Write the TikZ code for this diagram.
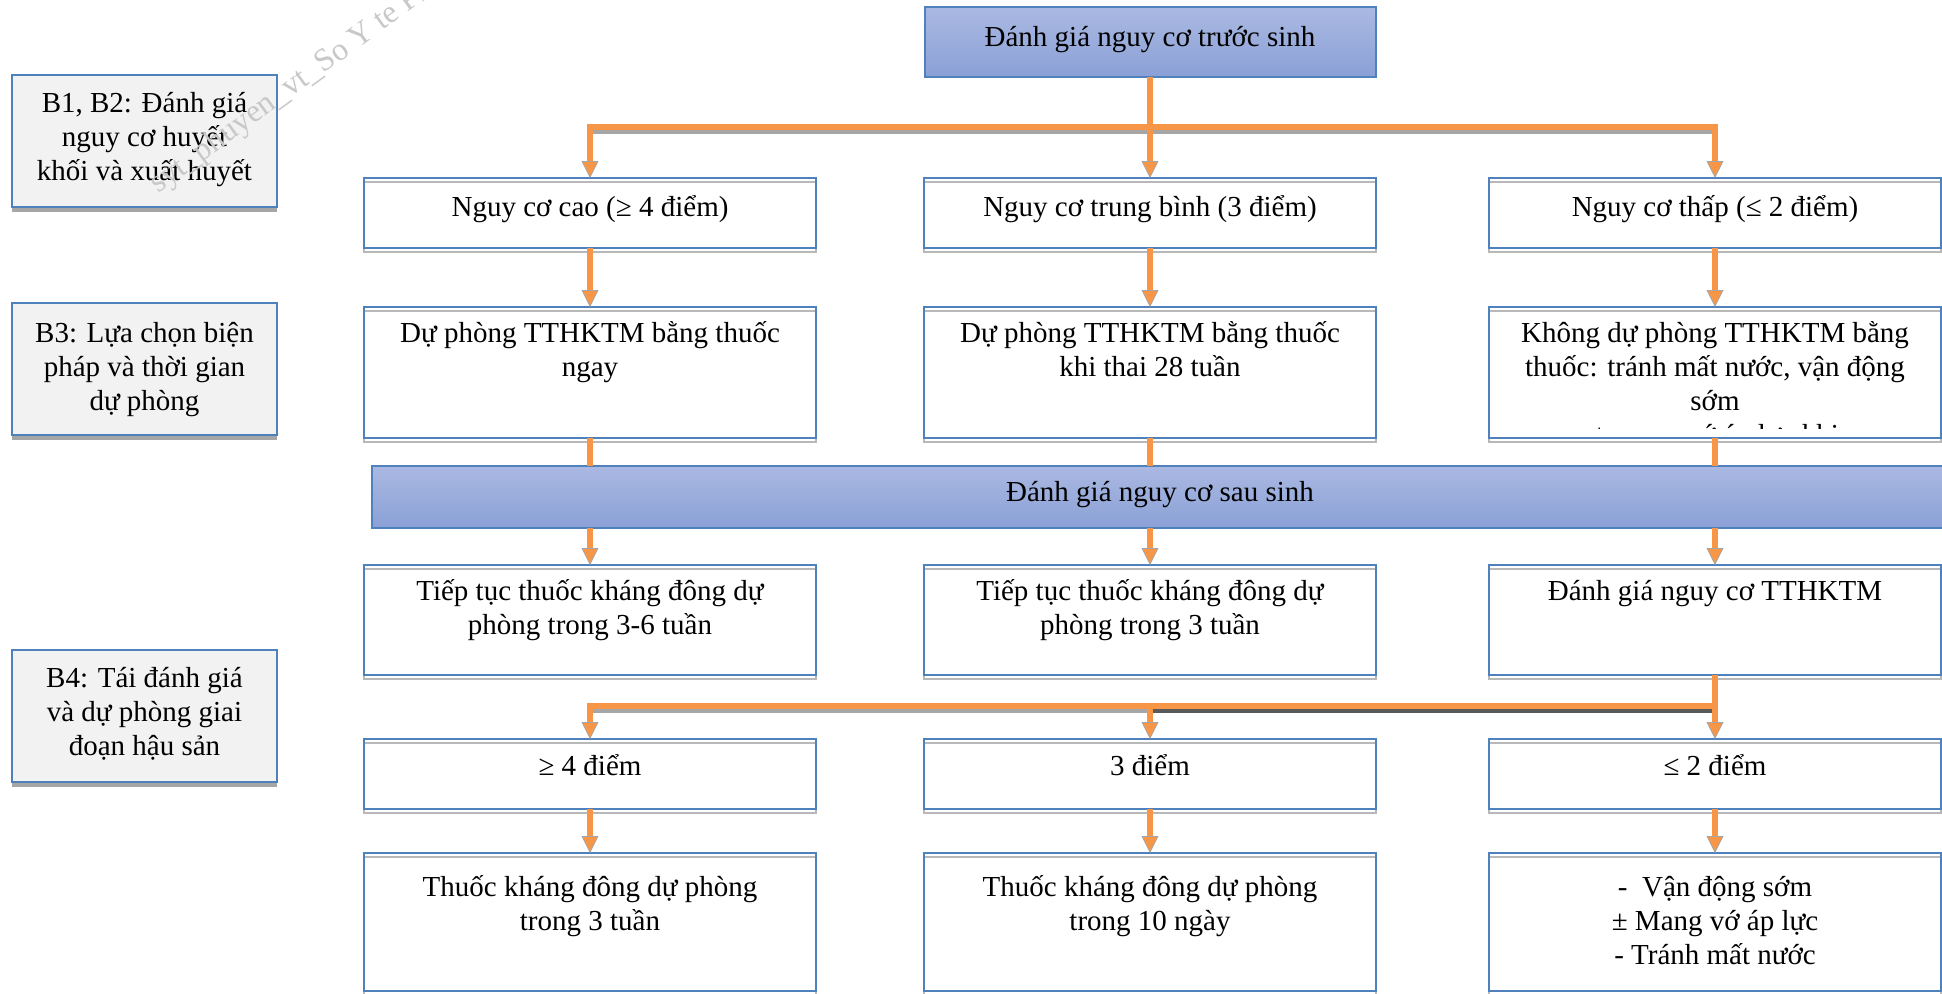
\documentclass[tikz,border=0pt]{standalone}
\usepackage{fontspec}
\setmainfont{Liberation Serif}
\usetikzlibrary{arrows.meta}
\definecolor{oc}{HTML}{F79646}
\definecolor{bb}{HTML}{4F81BD}
\definecolor{gtop}{HTML}{AAB9E2}
\definecolor{gbot}{HTML}{8AA0D6}
\definecolor{lg}{HTML}{F2F2F2}
\definecolor{sg}{HTML}{A6A6A6}
\definecolor{dg}{HTML}{595959}
\definecolor{wm}{HTML}{C8C8C8}
\tikzset{
  rowbox/.style={rectangle, inner sep=0pt, outer sep=0pt, fill=white, minimum width=226pt},
  stepbox/.style={rectangle, inner sep=0pt, outer sep=0pt, fill=lg, draw=bb, line width=1pt, minimum width=132.5pt, minimum height=66pt},
  headbox/.style={rectangle, inner sep=0pt, outer sep=0pt, top color=gtop, bottom color=gbot, draw=bb, line width=1pt},
  txt/.style={anchor=base, align=center, inner sep=0pt, font=\fontsize{14.5pt}{17pt}\selectfont},
  conn/.style={draw=oc, line width=3pt},
  arr/.style={conn, -{Triangle[width=8.5pt,length=8.5pt,fill=oc,color=sg,line width=0.4pt]}},
  rarr/.style={conn, {Triangle[width=8.5pt,length=8.5pt,fill=oc,color=sg,line width=0.4pt]}-},
  dbl/.style={conn, {Triangle[width=8.5pt,length=8.5pt,fill=oc,color=sg,line width=0.4pt]}-{Triangle[width=8.5pt,length=8.5pt,fill=oc,color=sg,line width=0.4pt]}},
  shad/.style={draw=sg, line width=2.5pt},
}
\begin{document}
\begin{tikzpicture}[x=0.5pt,y=-0.5pt]
\useasboundingbox (0,0) rectangle (1942,993);
\clip (0,0) rectangle (1942,993);

% ---- step boxes (left)
\node[stepbox] (b12) at (144.5,141) {};
\node[stepbox] (b3) at (144.5,368.5) {};
\node[stepbox] (b4) at (144.5,716) {};
\foreach \n in {b12,b3,b4}{
  \fill[sg] ([yshift=-0.5pt]\n.south west) rectangle ([yshift=-2.5pt]\n.south east);
}

% ---- header boxes
\node[headbox, minimum width=225.5pt, minimum height=35pt] (top) at (1150,42) {};
\node[headbox, minimum width=788pt, minimum height=31pt] (bar) at (1160,497) {};

% ---- row boxes
\node[rowbox, minimum height=35pt]   (r1l) at (590,213) {};
\node[rowbox, minimum height=35pt]   (r1m) at (1150,213) {};
\node[rowbox, minimum height=35pt]   (r1r) at (1715,213) {};
\node[rowbox, minimum height=65.5pt] (r2l) at (590,372.5) {};
\node[rowbox, minimum height=65.5pt] (r2m) at (1150,372.5) {};
\node[rowbox, minimum height=65.5pt] (r2r) at (1715,372.5) {};
\node[rowbox, minimum height=55pt]   (r3l) at (590,620) {};
\node[rowbox, minimum height=55pt]   (r3m) at (1150,620) {};
\node[rowbox, minimum height=55pt]   (r3r) at (1715,620) {};
\node[rowbox, minimum height=35pt]   (r4l) at (590,774) {};
\node[rowbox, minimum height=35pt]   (r4m) at (1150,774) {};
\node[rowbox, minimum height=35pt]   (r4r) at (1715,774) {};
\node[rowbox, minimum height=69pt]   (r5l) at (590,922) {};
\node[rowbox, minimum height=69pt]   (r5m) at (1150,922) {};
\node[rowbox, minimum height=69pt]   (r5r) at (1715,922) {};
\foreach \n in {r1l,r1m,r1r,r2l,r2m,r2r,r3l,r3m,r3r,r4l,r4m,r4r,r5l,r5m,r5r}{
  \draw[draw=sg!80, line width=1pt] ([yshift=-2pt]\n.south west) rectangle ([yshift=-2pt]\n.north east);
  \draw[draw=bb, line width=1pt] (\n.south west) rectangle (\n.north east);
}

% ---- connectors
\coordinate (h1) at (1150,127);
\coordinate (h2) at (1150,706);
\coordinate (h1l) at (r1l.north |- h1);
\coordinate (h1r) at (r1r.north |- h1);
\coordinate (h2l) at (r4l.north |- h2);
\coordinate (h2m) at (r4m.north |- h2);
\coordinate (h2r) at (r4r.north |- h2);

\draw[shad] ([xshift=1.5pt,yshift=-2pt]h1l) -- ([xshift=1.5pt,yshift=-2pt]h1r);
\draw[dbl] (r1l) -- (h1l) -- (h1r) -- (r1r);
\draw[arr] (top) -- (r1m);

\foreach \c in {l,m,r}{
  \draw[arr] (r1\c) -- (r2\c);
  \draw[conn] (r2\c) -- (r2\c.south |- bar.north);
  \draw[arr] (r2\c.south |- bar.south) -- (r3\c);
  \draw[arr] (r4\c) -- (r5\c);
}

\draw[shad] ([xshift=1.5pt,yshift=-2pt]h2l) -- ([yshift=-2pt]h2m);
\draw[draw=dg, line width=2.5pt] ([xshift=-1pt,yshift=-2pt]h2m) -- ([xshift=-1.5pt,yshift=-2pt]h2r);
\draw[arr] (r3r) -- (r4r);
\draw[rarr] (r4l) -- (h2l) -- (h2r);
\draw[arr] (h2m) -- (r4m);

% ---- texts (anchor = baseline of last line)
\node[txt] (tb12) at (144.5,180) {B1, B2: Đánh giá\\nguy cơ huyết\\khối và xuất huyết};
\node[txt] (tb3) at (144.5,410) {B3: Lựa chọn biện\\pháp và thời gian\\dự phòng};
\node[txt] (tb4) at (144.5,755) {B4: Tái đánh giá\\và dự phòng giai\\đoạn hậu sản};

\node[txt] (ttop) at (1150,46) {Đánh giá nguy cơ trước sinh};
\node[txt] (tbar) at (1160,501) {Đánh giá nguy cơ sau sinh};

\node[txt] (t1l) at (590,216) {Nguy cơ cao (≥ 4 điểm)};
\node[txt] (t1m) at (1150,216) {Nguy cơ trung bình (3 điểm)};
\node[txt] (t1r) at (1715,216) {Nguy cơ thấp (≤ 2 điểm)};

\node[txt] (t2l) at (590,376) {Dự phòng TTHKTM bằng thuốc\\ngay};
\node[txt] (t2m) at (1150,376) {Dự phòng TTHKTM bằng thuốc\\khi thai 28 tuần};
\node[txt] (t2r) at (1715,410) {Không dự phòng TTHKTM bằng\\thuốc: tránh mất nước, vận động\\sớm};
\begin{scope}
  \clip (1490,307) rectangle (1940,428);
  \node[txt] (t2rx) at (1715,444) {± mang vớ áp lực khi};
\end{scope}

\node[txt] (t3l) at (590,634) {Tiếp tục thuốc kháng đông dự\\phòng trong 3-6 tuần};
\node[txt] (t3m) at (1150,634) {Tiếp tục thuốc kháng đông dự\\phòng trong 3 tuần};
\node[txt] (t3r) at (1715,600) {Đánh giá nguy cơ TTHKTM};

\node[txt] (t4l) at (590,775) {≥ 4 điểm};
\node[txt] (t4m) at (1150,775) {3 điểm};
\node[txt] (t4r) at (1715,775) {≤ 2 điểm};

\node[txt] (t5l) at (590,930) {Thuốc kháng đông dự phòng\\trong 3 tuần};
\node[txt] (t5m) at (1150,930) {Thuốc kháng đông dự phòng\\trong 10 ngày};
\node[txt] (t5r) at (1715,964) {-\enspace Vận động sớm\\± Mang vớ áp lực\\- Tránh mất nước};

% ---- watermark
\node[anchor=base west, inner sep=0pt, rotate=36, text=wm, font=\fontsize{16pt}{18pt}\selectfont] (wmk) at (158,194) {syt\_phuyen\_vt\_So Y te Phu Yen};
\end{tikzpicture}
\end{document}
